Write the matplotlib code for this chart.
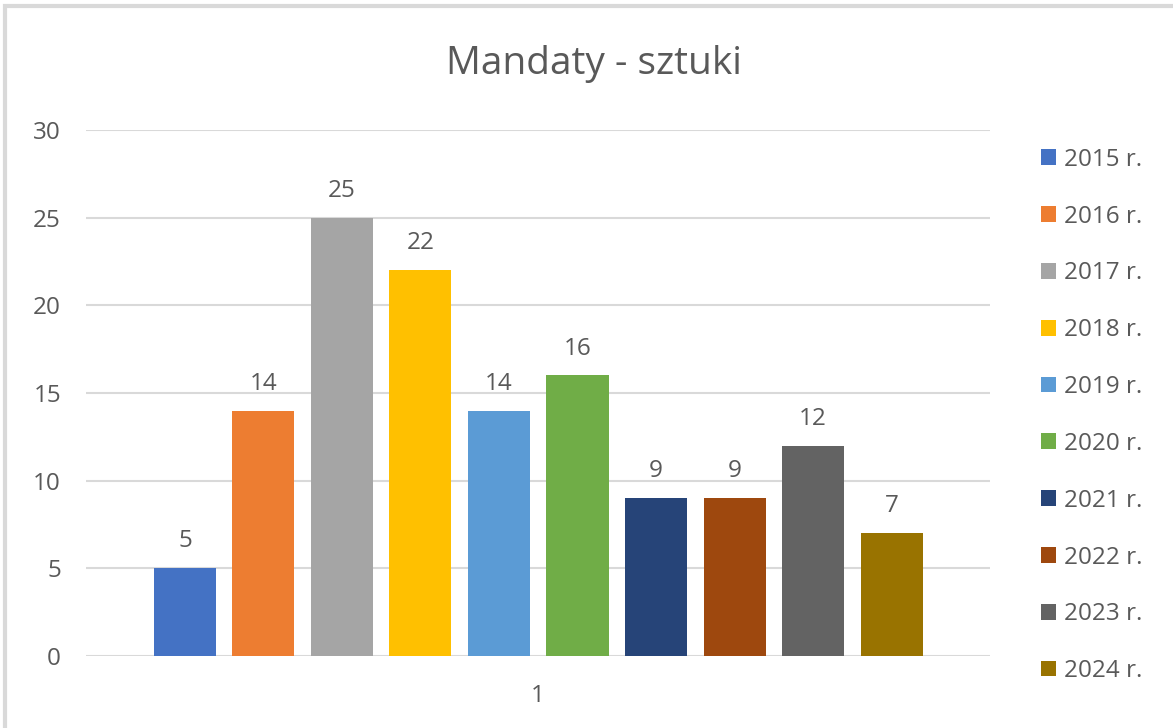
import matplotlib
matplotlib.use("Agg")
import matplotlib.pyplot as plt
from matplotlib.patches import Rectangle
import numpy as np

plt.rcParams["font.family"] = ["Open Sans", "DejaVu Sans"]

# Data
years = ["2015 r.", "2016 r.", "2017 r.", "2018 r.", "2019 r.",
         "2020 r.", "2021 r.", "2022 r.", "2023 r.", "2024 r."]
values = [5, 14, 25, 22, 14, 16, 9, 9, 12, 7]
category = ["1"]
colors = ["#4472C4", "#ED7D31", "#A5A5A5", "#FFC000", "#5B9BD5",
          "#70AD47", "#264478", "#9E480E", "#636363", "#997300"]

TEXT = "#595959"
GRID = "#D9D9D9"
FS = 17.5

fig = plt.figure(figsize=(11.73, 7.28), dpi=100)
ax = fig.add_axes([0.0733, 0.0989, 0.7711, 0.7225])

n = len(years)
width = 0.79
offsets = np.arange(n) - (n - 1) / 2
for i, (lab, v, c) in enumerate(zip(years, values, colors)):
    ax.bar(offsets[i], v, width=width, color=c, label=lab, zorder=3)
    ax.text(offsets[i], v + 0.85, str(v), ha="center", va="bottom",
            fontsize=FS, color=TEXT)

ax.set_xlim(-5.76, 5.76)
ax.set_ylim(0, 30)
ax.set_yticks(range(0, 31, 5))
ax.set_xticks([0])
ax.set_xticklabels(category)
ax.tick_params(axis="both", length=0, labelsize=FS, labelcolor=TEXT)
ax.tick_params(axis="y", pad=18)
ax.tick_params(axis="x", pad=20)
ax.yaxis.grid(True, color=GRID, linewidth=1.5, zorder=0)
for s in ax.spines.values():
    s.set_visible(False)

fig.text(0.506, 0.912, "Mandaty - sztuki", ha="center", va="center",
         fontsize=28, color=TEXT)

fig.legend(loc="upper left", bbox_to_anchor=(0.869, 0.827), frameon=False,
           fontsize=FS, labelcolor=TEXT, handlelength=0.62, handleheight=0.62,
           handletextpad=0.3, labelspacing=1.35)

# chart border
fig.patches.append(Rectangle((0.004, -0.05), 1.1, 1.042, transform=fig.transFigure,
                             fill=False, edgecolor=GRID, linewidth=3))

fig.savefig("out.png", dpi=100)
